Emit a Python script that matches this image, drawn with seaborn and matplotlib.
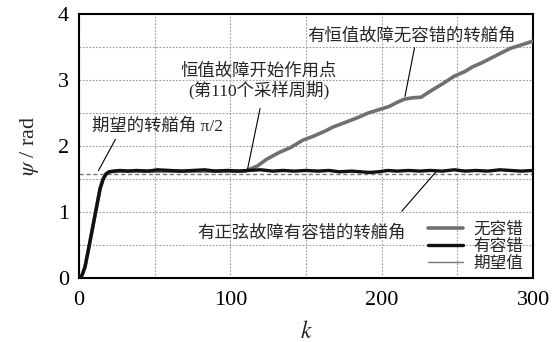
"""Turning angle response with / without fault tolerance"""
import numpy as np
import pandas as pd
import matplotlib
matplotlib.use('Agg')
import matplotlib.pyplot as plt
from matplotlib.lines import Line2D
from matplotlib.ticker import MultipleLocator
import seaborn as sns

# Fault tolerant curve (black)
k_ft = [0, 2, 4, 6, 8, 10, 12, 14, 16, 18, 20, 23, 27, 32, 38, 45, 52, 60, 68, 75,
        83, 90, 98, 105, 112, 120, 128, 135, 142, 150, 158, 165, 172, 180, 186, 192,
        198, 204, 210, 218, 225, 232, 240, 248, 255, 262, 270, 278, 285, 292, 300]
psi_ft = [0, 0.04, 0.17, 0.40, 0.64, 0.88, 1.12, 1.36, 1.50, 1.58, 1.61, 1.62, 1.63,
          1.62, 1.63, 1.62, 1.64, 1.63, 1.62, 1.63, 1.64, 1.62, 1.63, 1.62, 1.63, 1.64,
          1.62, 1.63, 1.62, 1.63, 1.62, 1.63, 1.61, 1.62, 1.61, 1.60, 1.61, 1.63, 1.62,
          1.63, 1.62, 1.63, 1.62, 1.64, 1.62, 1.63, 1.62, 1.64, 1.63, 1.62, 1.63]

# No fault tolerance, constant fault from k=110 (gray)
k_nf = [0, 2, 4, 6, 8, 10, 12, 14, 16, 18, 20, 25, 35, 50, 65, 80, 95, 110, 118, 124,
        132, 140, 148, 155, 162, 168, 175, 183, 191, 198, 205, 210, 215, 220, 226, 232,
        240, 248, 255, 260, 266, 272, 278, 285, 292, 300]
psi_nf = [0, 0.04, 0.17, 0.40, 0.64, 0.88, 1.12, 1.36, 1.50, 1.58, 1.61, 1.62, 1.62,
          1.62, 1.62, 1.62, 1.62, 1.62, 1.70, 1.80, 1.90, 1.98, 2.09, 2.15, 2.22, 2.29,
          2.35, 2.42, 2.50, 2.55, 2.60, 2.66, 2.71, 2.73, 2.74, 2.83, 2.94, 3.06, 3.13,
          3.20, 3.26, 3.33, 3.40, 3.48, 3.53, 3.59]

psi_ref = np.pi / 2
legend_labels = ['无容错', '有容错', '期望值']

FONT = ['Liberation Serif', 'Noto Sans CJK SC']

sns.set_theme(style='white')
plt.rcParams['font.family'] = FONT
plt.rcParams['mathtext.fontset'] = 'stix'

fig = plt.figure(figsize=(5.6, 3.42), dpi=100)
ax = fig.add_axes([0.141, 0.187, 0.811, 0.772])

df_nf = pd.DataFrame({'k': k_nf, 'psi': psi_nf})
df_ft = pd.DataFrame({'k': k_ft, 'psi': psi_ft})

ax.axhline(psi_ref, color='#777777', lw=1.0, ls=(0, (3, 2)), zorder=2)
sns.lineplot(data=df_nf, x='k', y='psi', ax=ax, color='#707070', lw=2.6, zorder=3)
sns.lineplot(data=df_ft, x='k', y='psi', ax=ax, color='#111111', lw=2.4, zorder=4)

ax.set_xlim(0, 300)
ax.set_ylim(0, 4)
ax.xaxis.set_major_locator(MultipleLocator(100))
ax.xaxis.set_minor_locator(MultipleLocator(50))
ax.yaxis.set_major_locator(MultipleLocator(1))
ax.yaxis.set_minor_locator(MultipleLocator(0.5))
ax.grid(which='both', color='#999999', ls=(0, (1.5, 1.5)), lw=0.8)
ax.tick_params(which='both', length=0, labelsize=16, colors='black')
ax.tick_params(axis='x', pad=9)
ax.tick_params(axis='y', pad=7)
for spine in ax.spines.values():
    spine.set_color('black')
    spine.set_linewidth(1.5)

ax.set_xlabel('$k$', fontsize=17, labelpad=8)
ax.set_ylabel(r'$\psi$ / rad', fontsize=16, labelpad=12)

# annotations
ax.text(8.5, 2.29, '期望的转艏角 π/2', fontsize=12.5, ha='left', va='center', family=FONT)
ax.annotate('', xy=(12, 1.59), xytext=(25, 2.14),
            arrowprops=dict(arrowstyle='-', color='black', lw=0.8))

ax.text(119, 2.98, '恒值故障开始作用点\n(第110个采样周期)', fontsize=12.5, ha='center',
        va='center', linespacing=1.05, family=FONT)
ax.annotate('', xy=(111, 1.61), xytext=(120, 2.61),
            arrowprops=dict(arrowstyle='-', color='black', lw=0.8))

ax.text(220, 3.67, '有恒值故障无容错的转艏角', fontsize=12.5, ha='center', va='center',
        family=FONT)
ax.annotate('', xy=(215, 2.71), xytext=(222, 3.53),
            arrowprops=dict(arrowstyle='-', color='black', lw=0.8))

ax.text(147, 0.68, '有正弦故障有容错的转艏角', fontsize=12.5, ha='center', va='center',
        family=FONT)
ax.annotate('', xy=(237, 1.64), xytext=(212, 0.98),
            arrowprops=dict(arrowstyle='-', color='black', lw=0.8))

handles = [Line2D([], [], color='#707070', lw=2.6),
           Line2D([], [], color='#111111', lw=2.4),
           Line2D([], [], color='#777777', lw=1.0)]
ax.legend(handles, legend_labels, loc='lower right', bbox_to_anchor=(1.0, -0.015),
          frameon=False, handlelength=2.1, handletextpad=0.6,
          labelspacing=0.08, borderaxespad=0.2, prop={'family': FONT, 'size': 12})

fig.savefig('out.png', dpi=100)
